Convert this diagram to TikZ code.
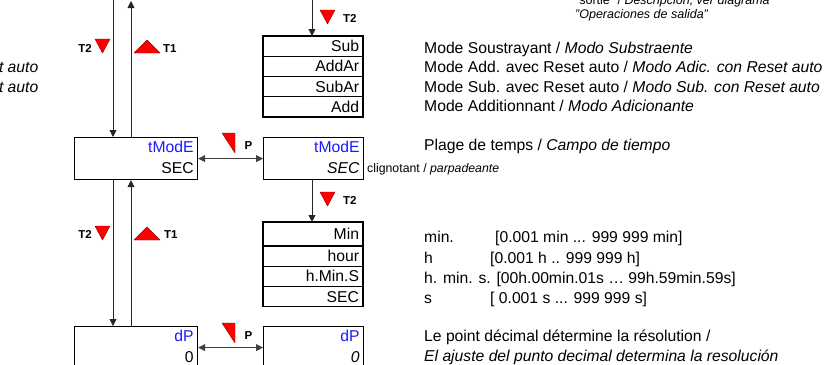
\documentclass[tikz,border=0pt]{standalone}
\usepackage{fontspec}
\setmainfont{Liberation Sans}
\usepackage{xcolor}
\definecolor{keyRed}  {HTML}{FF0000}
\definecolor{dispBlue}{HTML}{1A1AFF}
\usetikzlibrary{arrows.meta, positioning, calc}
\tikzset{
    arr/.style={-{Triangle[length=7pt, width=7pt]}, line width=0.8pt, black!85},
    darr/.style={{Triangle[length=7pt, width=7pt]}-{Triangle[length=7pt, width=7pt]},
                 line width=0.8pt, black!75},
    keytri/.style={fill=keyRed, draw=red!55!black, line width=0.4pt, line join=round},
    keydn/.pic={\path[keytri] (0,0) -- (15,0) -- (7.5,14) -- cycle;},
    keyup/.pic={\path[keytri] (0,13) -- (26,13) -- (13,0) -- cycle;},
    keyp/.pic={\path[keytri] (0,0) -- (13,0) -- (13,20) -- cycle;},
}

\begin{document}
\begin{tikzpicture}[
    x=1pt, y=-1pt,
    dispbox/.style={draw, line width=1.2pt, rectangle, anchor=north west,
                    minimum width=123pt, minimum height=42pt,
                    inner xsep=4pt, inner ysep=0pt, text width=115pt,
                    text height=11.5pt, text depth=24pt, align=right,
                    font=\fontsize{15.7}{21}\selectfont},
    dispsmall/.style={dispbox, minimum width=100pt, text width=92pt},
    rowbox/.style={draw, line width=1.2pt, rectangle, outer sep=0pt,
                   minimum width=100pt, minimum height=20.25pt,
                   inner xsep=4pt, inner ysep=0pt, text width=92pt,
                   align=right, font=\fontsize{15.7}{16}\selectfont},
    keylbl/.style={inner sep=0pt, font=\fontsize{11.5}{12}\selectfont\bfseries},
    desc/.style={anchor=base west, inner sep=0pt, font=\fontsize{15.7}{18}\selectfont},
    note/.style={anchor=base west, inner sep=0pt, font=\fontsize{12.3}{14}\selectfont},
]
\useasboundingbox (0,0) rectangle (832,364);
\clip (0,0) rectangle (832,364);

% --- LEFT: menu column ---
\node[dispbox] (l-tm) at (74,137) {\textcolor{dispBlue}{tModE}\\SEC};
\node[dispbox] (l-dp) at (74,326) {\textcolor{dispBlue}{dP}\\0};
\coordinate (l-in) at (113,-2);
\coordinate (l-out) at (131,1);
\draw[arr] (l-in) -- (l-in |- l-tm.north);
\draw[arr] (l-out |- l-tm.north) -- (l-out);
\draw[arr] (l-in |- l-tm.south) -- (l-in |- l-dp.north);
\draw[arr] (l-out |- l-dp.north) -- (l-out |- l-tm.south);
\pic at (95,39) {keydn};
\node[keylbl, anchor=east] (l-t2a) at (92,48) {T2};
\pic at (134,40) {keyup};
\node[keylbl, anchor=west] (l-t1a) at (163,48.5) {T1};
\pic at (95,226) {keydn};
\node[keylbl, anchor=east] (l-t2b) at (92,234.5) {T2};
\pic at (134,227) {keyup};
\node[keylbl, anchor=west] (l-t1b) at (164,235) {T1};
\node[desc, anchor=base east] (l-cut1) at (38.5,72.8) {\textit{t auto}};
\node[desc, anchor=base east] (l-cut2) at (38.5,92.3) {\textit{t auto}};

% --- MIDDLE: edit values ---
\node[dispsmall] (r-tm) at (263,137) {\textcolor{dispBlue}{tModE}\\\textit{SEC}};
\node[dispsmall] (r-dp) at (263,326) {\textcolor{dispBlue}{dP}\\\textit{0}};
\draw[darr] (l-tm) -- (r-tm);
\draw[darr] (l-dp) -- (r-dp);
\pic at (222,133) {keyp};
\node[keylbl] (p-a) at (248.5,145.5) {P};
\pic at (222,323) {keyp};
\node[keylbl] (p-b) at (248.5,335.5) {P};

\node[rowbox, anchor=north west] (m-sub) at (263,36) {Sub};
\node[rowbox, below=0pt of m-sub] (m-addar) {AddAr};
\node[rowbox, below=0pt of m-addar] (m-subar) {SubAr};
\node[rowbox, below=0pt of m-subar] (m-add) {Add};

\node[rowbox, anchor=north west, minimum height=24pt] (g-min) at (263,222) {Min};
\node[rowbox, below=0pt of g-min] (g-hour) {hour};
\node[rowbox, below=0pt of g-hour] (g-hms) {h.Min.S};
\node[rowbox, below=0pt of g-hms] (g-sec) {SEC};

\coordinate (r-in) at (312,-2);
\draw[arr] (r-in) -- (r-in |- m-sub.north);
\draw[arr] (r-in |- r-tm.south) -- (r-in |- g-min.north);
\pic at (320,10) {keydn};
\node[keylbl, anchor=west] (r-t2a) at (343,18.5) {T2};
\pic at (320,192) {keydn};
\node[keylbl, anchor=west] (r-t2b) at (343,200) {T2};

% --- RIGHT: descriptions ---
\node[note, font=\fontsize{12.5}{14}\selectfont] (d-top1) at (575,5)
    {"sortie" / \textit{Descripción, ver diagrama}};
\node[note, font=\fontsize{12.5}{14}\selectfont\itshape] (d-top2) at (575,18.3)
    {"Operaciones de salida"};
\node[desc] (d-sub) at (424,53.3) {Mode Soustrayant / \textit{Modo Substraente}};
\node[desc] (d-addar) at (424,72.8) {Mode Add. avec Reset auto / \textit{Modo Adic. con Reset auto}};
\node[desc] (d-subar) at (424,92.3) {Mode Sub. avec Reset auto / \textit{Modo Sub. con Reset auto}};
\node[desc] (d-add) at (424,111.7) {Mode Additionnant / \textit{Modo Adicionante}};
\node[desc] (d-tm) at (424,150) {Plage de temps / \textit{Campo de tiempo}};
\node[note] (d-blink) at (367,172) {clignotant / \textit{parpadeante}};
\node[desc] (d-min) at (424,242.5) {\makebox[71pt][l]{min.}[0.001 min ... 999 999 min]};
\node[desc] (d-hour) at (424,263) {\makebox[66pt][l]{h}[0.001 h .. 999 999 h]};
\node[desc] (d-hms) at (424,283) {h. min. s. [00h.00min.01s … 99h.59min.59s]};
\node[desc] (d-sec) at (424,303) {\makebox[66pt][l]{s}[ 0.001 s ... 999 999 s]};
\node[desc] (d-dp1) at (424,341.7) {Le point décimal détermine la résolution /};
\node[desc] (d-dp2) at (424,361.7) {\textit{El ajuste del punto decimal determina la resolución}};
\end{tikzpicture}
\end{document}
